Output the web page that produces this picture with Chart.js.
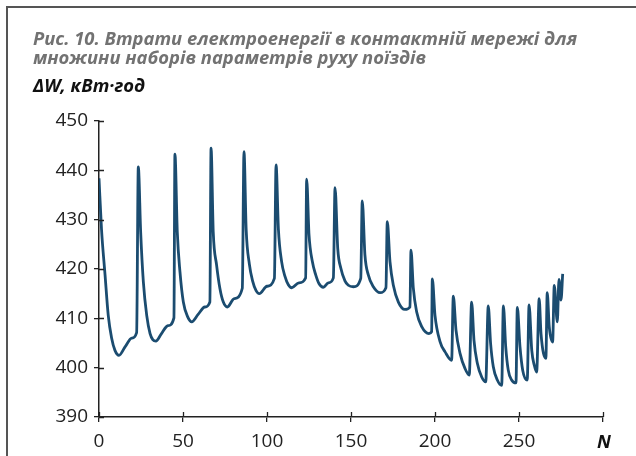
<!DOCTYPE html>
<html>
<head>
<meta charset="utf-8">
<script src="https://cdn.jsdelivr.net/npm/chart.js@4.4.1/dist/chart.umd.min.js"></script>
<style>
  body { margin: 0; background: #fff; }
  #wrap { position: relative; width: 636px; height: 456px; overflow: hidden; background: #fff; }
  #frame { position: absolute; left: 6px; top: 6px; right: -4px; bottom: -4px;
           border-left: 2px solid #555; border-top: 2px solid #555; }
  canvas { position: absolute; left: 0; top: 0; }
  .txt { position: absolute; font-family: "Open Sans", sans-serif; font-weight: bold;
         font-style: italic; font-size: 18.4px; line-height: 19px; white-space: nowrap; }
  #title { left: 33px; top: 28px; color: #727272; }
  #ylab { left: 33px; top: 75px; color: #111; }
  #xlab { left: 597px; top: 431px; color: #111; }
</style>
</head>
<body>
<div id="wrap">
  <div id="frame"></div>
  <canvas id="chart" width="636" height="456"></canvas>
  <div class="txt" id="title">Рис. 10. Втрати електроенергії в контактній мережі для<br>множини наборів параметрів руху поїздів</div>
  <div class="txt" id="ylab">ΔW, кВт·год</div>
  <div class="txt" id="xlab">N</div>
</div>
<script>
(function () {
  "use strict";

  /* ── Data ──────────────────────────────────── */

  // N – number of the parameter set
  var N_VALUES = [
    0, 1.5, 3.6, 5.5, 7.5, 9.5, 11.9, 15.5, 19.5, 22.4,
    23.4, 24.8, 26.4, 28.4, 30.4, 32, 33.9, 37, 41, 44.6,
    45.2, 46.6, 48.2, 50.2, 52.8, 55.2, 59, 63, 66,
    66.7, 68, 70, 72, 74, 76.4, 80.5, 85.3,
    86.3, 87.6, 89.5, 91.5, 93.5, 95.4, 100, 104.4,
    105.4, 106.8, 108.7, 110.7, 112.7, 114.7, 119, 123,
    123.6, 125, 127, 129, 131, 133.5, 136.5, 139.5,
    140.5, 142.1, 144, 146.4, 148.4, 151.4, 155.8,
    156.7, 158.3, 160.3, 163.3, 167.3, 170.8,
    171.6, 173.2, 175.2, 178.2, 182.1, 185.1,
    185.7, 187.1, 189.1, 192.1, 196.4, 198,
    198.4, 200, 203, 206, 209.9,
    210.9, 212.5, 214.9, 217.9, 220.4,
    221.8, 223.2, 225.2, 227.8, 230.2,
    231.7, 233.1, 234.7, 237.1, 239.7,
    240.7, 242.1, 243.6, 245.6, 248.2,
    249, 250.6, 252.2, 254.9,
    256, 257.6, 259.1, 260.5,
    262, 263.1, 266,
    266.8, 268, 270,
    271, 272.8,
    273.8, 275,
    276
  ];

  // ΔW, kWh – losses in the contact network
  var DW_VALUES = [
    438.4, 428, 418.8, 410.6, 406, 403.5, 402.5, 404.2, 406, 407.1,
    440.7, 427.5, 417.4, 410.6, 406.9, 405.7, 405.4, 406.8, 408.5, 410.1,
    443.3, 427.5, 419.4, 413.3, 410.3, 409.3, 410.8, 412.3, 413.3,
    444.5, 427.5, 420.8, 416, 413.3, 412.3, 414, 416.1,
    443.8, 428, 421, 417.5, 415.6, 415.0, 416.5, 418.1,
    441.1, 428, 421.5, 418.5, 416.8, 416.2, 417.2, 418.2,
    438.2, 427, 421.5, 418.8, 417, 416.3, 417.2, 418.2,
    436.5, 424.2, 420.1, 417.6, 416.7, 416.4, 418.1,
    433.8, 422.8, 418.8, 416.4, 415.2, 416.2,
    429.6, 421.5, 416.7, 413.3, 411.8, 412.3,
    423.8, 416.1, 411.3, 408.3, 406.9, 407.3,
    418, 410.6, 405.3, 403.2, 401.5,
    414.5, 407.6, 402.9, 399.8, 398.5,
    413.3, 405.6, 400.9, 398.1, 397.1,
    412.5, 404.9, 400.2, 397.5, 396.4,
    412.5, 404.2, 399.5, 397.5, 396.9,
    412.2, 404.2, 399.5, 397.5,
    412.7, 403.5, 400.5, 399.1,
    414.0, 406.9, 401.9,
    415.2, 408.3, 405.2,
    416.7, 409.3,
    417.9, 413.7,
    419.0
  ];

  var X_MIN = 0, X_MAX = 300, X_STEP = 50;
  var Y_MIN = 390, Y_MAX = 450, Y_STEP = 10;

  var LINE_COLOR = "#1b4c70";
  var AXIS_COLOR = "#222";
  var TICK_FONT = { family: "'Open Sans', sans-serif", size: 19 };

  var points = N_VALUES.map(function (n, i) { return { x: n, y: DW_VALUES[i] }; });

  // ticks in the figure cross the axis, chart.js only draws the outer half
  var innerTicks = {
    id: "innerTicks",
    afterDraw: function (chart) {
      var ctx = chart.ctx, area = chart.chartArea;
      var xs = chart.scales.x, ys = chart.scales.y;
      ctx.save();
      ctx.strokeStyle = AXIS_COLOR;
      ctx.lineWidth = 1.3;
      ctx.beginPath();
      xs.ticks.forEach(function (t) {
        var px = Math.round(xs.getPixelForValue(t.value)) + 0.5;
        ctx.moveTo(px, area.bottom);
        ctx.lineTo(px, area.bottom - 5);
      });
      ys.ticks.forEach(function (t) {
        var py = Math.round(ys.getPixelForValue(t.value)) + 0.5;
        ctx.moveTo(area.left, py);
        ctx.lineTo(area.left + 5, py);
      });
      ctx.stroke();
      ctx.restore();
    }
  };

  new Chart(document.getElementById("chart"), {
    type: "line",
    data: {
      datasets: [{
        data: points,
        borderColor: LINE_COLOR,
        borderWidth: 2.8,
        pointRadius: 0,
        cubicInterpolationMode: "monotone",
        fill: false
      }]
    },
    options: {
      responsive: false,
      animation: false,
      devicePixelRatio: 1,
      layout: { padding: { left: 0, top: 121, right: 33, bottom: 0 } },
      scales: {
        x: {
          type: "linear",
          min: X_MIN,
          max: X_MAX,
          afterFit: function (s) { s.height = 39; },
          ticks: {
            stepSize: X_STEP,
            color: AXIS_COLOR,
            font: TICK_FONT,
            padding: 8,
            maxRotation: 0,
            callback: function (v) { return v === X_MAX ? "" : v; }
          },
          grid: { drawOnChartArea: false, drawTicks: true, tickLength: 5, color: AXIS_COLOR, lineWidth: 1.3 },
          border: { display: true, color: AXIS_COLOR, width: 1.5 }
        },
        y: {
          min: Y_MIN,
          max: Y_MAX,
          afterFit: function (s) { s.width = 99; },
          ticks: {
            stepSize: Y_STEP,
            color: AXIS_COLOR,
            font: TICK_FONT,
            padding: 6
          },
          grid: { drawOnChartArea: false, drawTicks: true, tickLength: 5, color: AXIS_COLOR, lineWidth: 1.3 },
          border: { display: true, color: AXIS_COLOR, width: 1.5 }
        }
      },
      plugins: {
        legend: { display: false },
        tooltip: { enabled: false }
      }
    },
    plugins: [innerTicks]
  });
})();
</script>
</body>
</html>
